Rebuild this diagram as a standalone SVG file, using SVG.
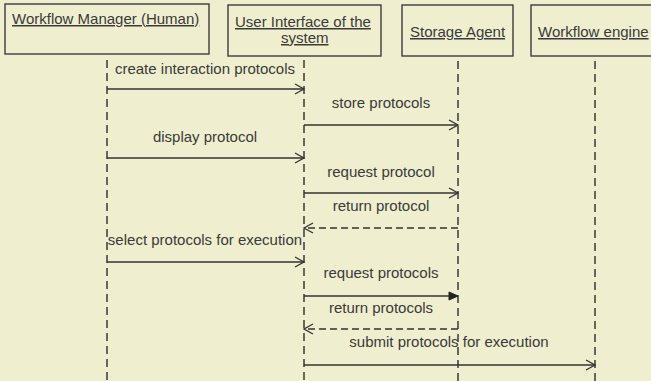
<svg xmlns="http://www.w3.org/2000/svg" width="651" height="381" viewBox="0 0 651 381">
  <style>
    .bg { fill: #efefcf; }
    .box { fill: #efefcf; stroke: #3c3c3c; stroke-width: 1.4; }
    .head { font-family: "Liberation Sans", Arial, sans-serif; font-size: 15px; fill: #3a3a3a; text-decoration: underline; }
    .lbl { font-family: "Liberation Sans", Arial, sans-serif; font-size: 15px; fill: #3a3a3a; text-anchor: middle; }
    .life { stroke: #3a3a3a; stroke-width: 1.5; stroke-dasharray: 8 5; fill: none; }
    .msg { stroke: #333; stroke-width: 1.3; fill: none; }
    .ret { stroke: #333; stroke-width: 1.3; fill: none; stroke-dasharray: 7 4; }
  </style>
  <defs>
    <marker id="open" markerWidth="12" markerHeight="12" refX="10" refY="6" orient="auto" markerUnits="userSpaceOnUse">
      <path d="M1,1 L10,6 L1,11" fill="none" stroke="#333" stroke-width="1.3"/>
    </marker>
    <marker id="solid" markerWidth="12" markerHeight="12" refX="10" refY="6" orient="auto" markerUnits="userSpaceOnUse">
      <path d="M1,2 L10,6 L1,10 Z" fill="#222" stroke="#222" stroke-width="1"/>
    </marker>
  </defs>

  <rect class="bg" x="0" y="0" width="651" height="381"/>

  <!-- participants with their lifelines -->
  <g id="workflow-manager">
    <line class="life" x1="107" y1="60" x2="107" y2="381"/>
    <rect class="box" x="5" y="4" width="204" height="50"/>
    <text class="head" x="12" y="24">Workflow Manager (Human)</text>
  </g>
  <g id="user-interface">
    <line class="life" x1="304" y1="60" x2="304" y2="381"/>
    <rect class="box" x="228" y="5" width="153" height="51"/>
    <text class="head" x="235" y="27">User Interface of the</text>
    <text class="head" x="281" y="43">system</text>
  </g>
  <g id="storage-agent">
    <line class="life" x1="458" y1="61" x2="458" y2="381"/>
    <rect class="box" x="402" y="5" width="111" height="51"/>
    <text class="head" x="410" y="37">Storage Agent</text>
  </g>
  <g id="workflow-engine">
    <line class="life" x1="595" y1="61" x2="595" y2="381"/>
    <rect class="box" x="531" y="5" width="130" height="51"/>
    <text class="head" x="538" y="37">Workflow engine</text>
  </g>

  <!-- messages -->
  <g id="messages">
    <line class="msg" x1="107" y1="89" x2="304" y2="89" marker-end="url(#open)"/>
    <text class="lbl" x="205" y="74">create interaction protocols</text>

    <line class="msg" x1="304" y1="125" x2="458" y2="125" marker-end="url(#open)"/>
    <text class="lbl" x="381" y="108">store protocols</text>

    <line class="msg" x1="107" y1="158" x2="304" y2="158" marker-end="url(#open)"/>
    <text class="lbl" x="205" y="142">display protocol</text>

    <line class="msg" x1="304" y1="193" x2="458" y2="193" marker-end="url(#open)"/>
    <text class="lbl" x="381" y="177">request protocol</text>

    <line class="ret" x1="458" y1="228" x2="304" y2="228" marker-end="url(#open)"/>
    <text class="lbl" x="381" y="211">return protocol</text>

    <line class="msg" x1="107" y1="262" x2="304" y2="262" marker-end="url(#open)"/>
    <text class="lbl" x="205" y="245">select protocols for execution</text>

    <line class="msg" x1="304" y1="296" x2="458" y2="296" marker-end="url(#solid)"/>
    <text class="lbl" x="381" y="278">request protocols</text>

    <line class="ret" x1="458" y1="329" x2="304" y2="329" marker-end="url(#open)"/>
    <text class="lbl" x="381" y="313">return protocols</text>

    <line class="msg" x1="304" y1="365" x2="595" y2="365" marker-end="url(#open)"/>
    <text class="lbl" x="449" y="347">submit protocols for execution</text>
  </g>
</svg>
